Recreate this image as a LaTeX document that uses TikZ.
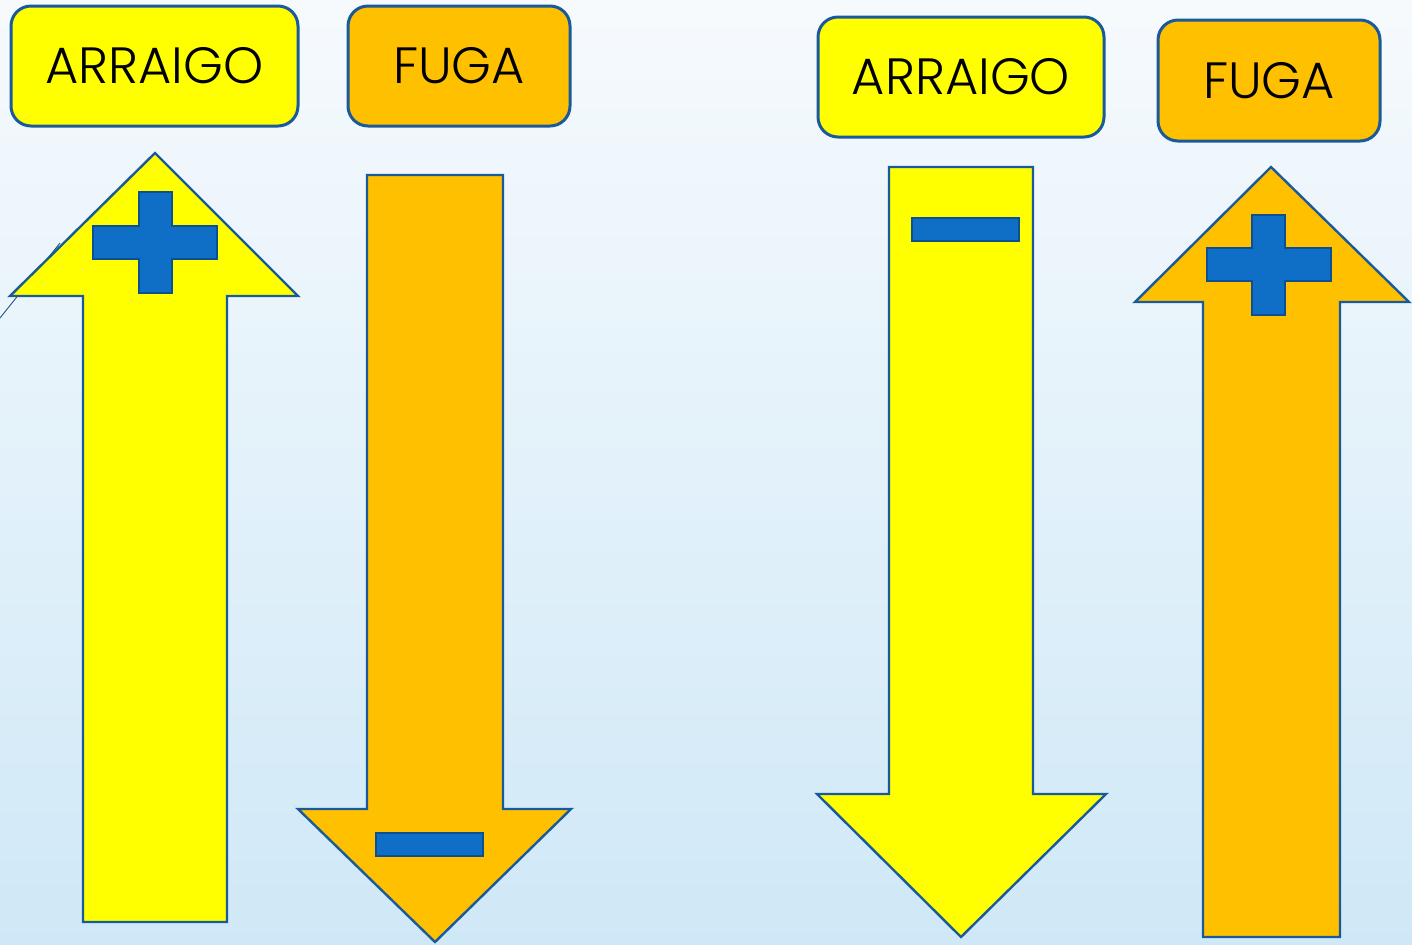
\documentclass[tikz,border=0pt]{standalone}
\usepackage{fontspec}
\setmainfont{Poppins}[UprightFont={* Light}]
\definecolor{edgeblue}{HTML}{1A5A9A}
\definecolor{signblue}{HTML}{0F6FC6}
\definecolor{signedge}{HTML}{0C4F92}
\definecolor{arryellow}{HTML}{FFFF00}
\definecolor{fugorange}{HTML}{FFC000}
\definecolor{bgtop}{HTML}{F6FAFD}
\definecolor{bgbottom}{HTML}{CFE8F7}

\begin{document}
\begin{tikzpicture}[x=0.5pt,y=-0.5pt,
	label box/.style={draw=edgeblue,line width=1.5pt,rounded corners=10pt,inner sep=0pt,
		font=\fontsize{25.5}{30}\selectfont},
	arrow body/.style={draw=edgeblue,line width=1.2pt,line join=miter},
	sign/.style={fill=signblue,draw=signedge,line width=1pt}]
	% background
	\shade[top color=bgtop,bottom color=bgbottom] (0,0) rectangle (1412,944);
	\useasboundingbox (0,0) rectangle (1412,944);
	\draw[edgeblue!80!black,line width=0.4pt] (0,318) -- (60,243);
	% left pair
	\node[label box,fill=arryellow,minimum width=143.5pt,minimum height=60pt] (arrL) at (154.5,66) {ARRAIGO};
	\node[label box,fill=fugorange,minimum width=111pt,minimum height=60pt] (fugL) at (459,66) {FUGA};
	\filldraw[arrow body,fill=arryellow] (155,153) -- (298,296) -- (227,296) -- (227,922)
		-- (83,922) -- (83,296) -- (10,296) -- cycle;
	\filldraw[sign] (139,192) -- (172,192) -- (172,226) -- (217,226) -- (217,259) -- (172,259)
		-- (172,293) -- (139,293) -- (139,259) -- (93,259) -- (93,226) -- (139,226) -- cycle;
	\filldraw[arrow body,fill=fugorange] (367,175) -- (503,175) -- (503,809) -- (571,809)
		-- (435,942) -- (298,809) -- (367,809) -- cycle;
	\filldraw[sign] (376,833) rectangle (483,856);
	% right pair
	\node[label box,fill=arryellow,minimum width=143pt,minimum height=60pt] (arrR) at (961,77) {ARRAIGO};
	\node[label box,fill=fugorange,minimum width=111pt,minimum height=60.5pt] (fugR) at (1269,80.5) {FUGA};
	\filldraw[arrow body,fill=arryellow] (889,167) -- (1033,167) -- (1033,794) -- (1106,794)
		-- (961,937) -- (817,794) -- (889,794) -- cycle;
	\filldraw[sign] (912,218) rectangle (1019,241);
	\filldraw[arrow body,fill=fugorange] (1271,167) -- (1409,302) -- (1340,302) -- (1340,937)
		-- (1203,937) -- (1203,302) -- (1135,302) -- cycle;
	\filldraw[sign] (1252,215) -- (1285,215) -- (1285,248) -- (1331,248) -- (1331,281) -- (1285,281)
		-- (1285,315) -- (1252,315) -- (1252,281) -- (1207,281) -- (1207,248) -- (1252,248) -- cycle;
\end{tikzpicture}
\end{document}
